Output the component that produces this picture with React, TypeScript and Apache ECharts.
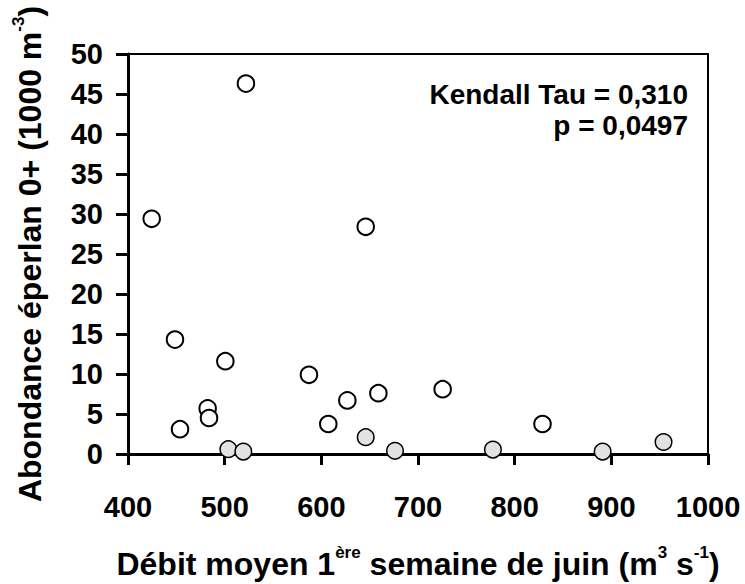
import React, { useEffect, useRef } from "react";
import * as echarts from "echarts";

// Débit moyen (m3 s-1), abondance (1000 m-3) — open circles
const openX = [424.5, 522, 448.6, 453.8, 482.4, 483.8, 500.7, 587.2, 607.2, 626.9, 645.9, 659, 725.5, 828.8];
const openY = [29.4, 46.3, 14.3, 3.1, 5.7, 4.5, 11.6, 9.9, 3.75, 6.7, 28.4, 7.6, 8.1, 3.75];
// grey-filled circles
const greyX = [503.8, 519.3, 645.9, 676.2, 777.5, 891, 954];
const greyY = [0.6, 0.3, 2.1, 0.4, 0.55, 0.3, 1.5];

const xTicks = [400, 500, 600, 700, 800, 900, 1000];
const yTicks = [0, 5, 10, 15, 20, 25, 30, 35, 40, 45, 50];
const statLines = ["Kendall Tau = 0,310", "p = 0,0497"];

const FONT = "'Liberation Sans', Arial, Helvetica, sans-serif";

export default function App() {
  const ref = useRef<HTMLDivElement>(null);
  useEffect(() => {
    if (!ref.current) return;
    const chart = echarts.init(ref.current, undefined, { renderer: "svg" });
    const openData = openX.map((x, i) => [x, openY[i]]);
    const greyData = greyX.map((x, i) => [x, greyY[i]]);
    const titleRich = {
      main: { fontSize: 32, fontWeight: "bold", fontFamily: FONT, color: "#000", lineHeight: 40 },
      sup: { fontSize: 17, fontWeight: "bold", fontFamily: FONT, color: "#000", lineHeight: 6, verticalAlign: "top" },
    };
    chart.setOption({
      animation: false,
      backgroundColor: "#fff",
      grid: {
        left: 128,
        right: 37,
        top: 54,
        bottom: 130,
        containLabel: false,
        outerBoundsMode: "none",
        show: true,
        borderColor: "#000",
        borderWidth: 2,
        backgroundColor: "transparent",
      },
      xAxis: {
        type: "value",
        min: xTicks[0],
        max: xTicks[xTicks.length - 1],
        interval: 100,
        axisLine: { show: true, onZero: false, lineStyle: { color: "#000", width: 3 } },
        axisTick: { show: true, inside: false, length: 11, lineStyle: { color: "#000", width: 3 } },
        splitLine: { show: false },
        axisLabel: {
          margin: 38,
          fontSize: 29,
          fontWeight: "bold",
          fontFamily: FONT,
          color: "#000",
          formatter: (v: number) => String(v),
        },
        name: "{main|Débit moyen 1}{sup|ère}{main| semaine de juin (m}{sup|3}{main| s}{sup|-1}{main|)}",
        nameLocation: "middle",
        nameGap: 90,
        nameTextStyle: { rich: titleRich },
      },
      yAxis: {
        type: "value",
        min: yTicks[0],
        max: yTicks[yTicks.length - 1],
        interval: 5,
        axisLine: { show: true, onZero: false, lineStyle: { color: "#000", width: 3 } },
        axisTick: { show: true, inside: false, length: 12, lineStyle: { color: "#000", width: 3 } },
        splitLine: { show: false },
        axisLabel: {
          margin: 25,
          fontSize: 29,
          fontWeight: "bold",
          fontFamily: FONT,
          color: "#000",
          formatter: (v: number) => String(v),
        },
        name: "{main|Abondance éperlan 0+ (1000 m}{sup|-3}{main|)}",
        nameLocation: "middle",
        nameGap: 78,
        nameTextStyle: { rich: titleRich },
      },
      graphic: [
        {
          type: "text",
          x: 688,
          y: 79,
          style: {
            text: statLines.join("\n"),
            align: "right",
            verticalAlign: "top",
            fontSize: 28,
            fontWeight: "bold",
            fontFamily: FONT,
            fill: "#000",
            lineHeight: 31,
          },
        },
      ],
      series: [
        {
          type: "scatter",
          data: openData,
          symbol: "circle",
          symbolSize: 16.5,
          itemStyle: { color: "#fff", borderColor: "#000", borderWidth: 2, opacity: 1 },
          z: 5,
        },
        {
          type: "scatter",
          data: greyData,
          symbol: "circle",
          symbolSize: 16.5,
          itemStyle: { color: "#e2e2e2", borderColor: "#000", borderWidth: 1.5, opacity: 1 },
          z: 5,
        },
      ],
    });
    return () => chart.dispose();
  }, []);
  return <div ref={ref} style={{ width: 745, height: 584, position: "absolute", left: 0, top: 0 }} />;
}
